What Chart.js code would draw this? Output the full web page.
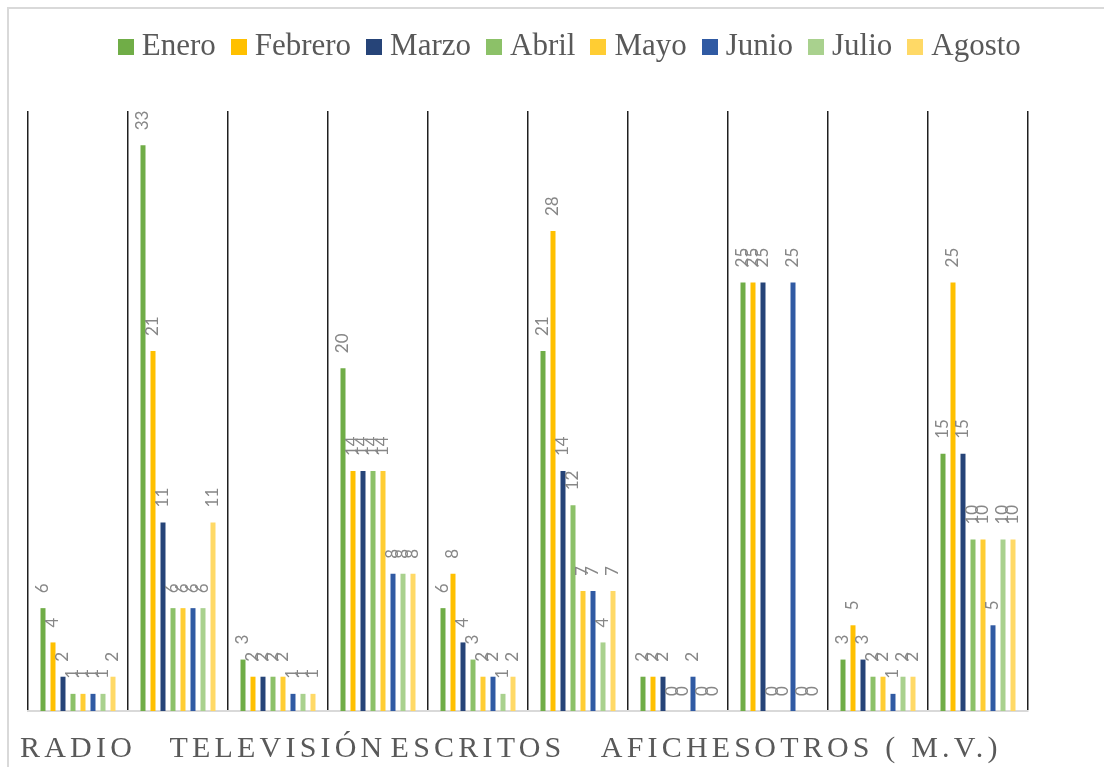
<!DOCTYPE html>
<html lang="es">
<head>
<meta charset="utf-8">
<title>Medios por mes</title>
<script src="https://cdn.jsdelivr.net/npm/chart.js@4.4.1/dist/chart.umd.min.js"></script>
<style>
  html, body { margin: 0; padding: 0; background: #ffffff; overflow: hidden; }
  #wrap { position: relative; width: 1104px; height: 767px; overflow: hidden; }
  #chart { position: absolute; left: 0; top: 0; }
  #frame { position: absolute; left: 7px; top: 7px; width: 1200px; height: 900px;
           border: 2px solid #d9d9d9; pointer-events: none; }
</style>
</head>
<body>
<div id="wrap">
  <canvas id="chart" width="1104" height="787"></canvas>
  <div id="frame"></div>
</div>
<script>
// Category tick labels (every other category carries the medium's name)
const tickLabels = ['RADIO', '', 'TELEVISIÓN', '', 'ESCRITOS', '', 'AFICHES', '', 'OTROS ( M.V.)', ''];

// Months shown as series
const months = ['Enero', 'Febrero', 'Marzo', 'Abril', 'Mayo', 'Junio', 'Julio', 'Agosto'];

// Values per month, one per category
const enero   = [6, 33, 3, 20, 6, 21, 2, 25, 3, 15];
const febrero = [4, 21, 2, 14, 8, 28, 2, 25, 5, 25];
const marzo   = [2, 11, 2, 14, 4, 14, 2, 25, 3, 15];
const abril   = [1, 6, 2, 14, 3, 12, 0, 0, 2, 10];
const mayo    = [1, 6, 2, 14, 2, 7, 0, 0, 2, 10];
const junio   = [1, 6, 1, 8, 2, 7, 2, 25, 1, 5];
const julio   = [1, 6, 1, 8, 1, 4, 0, 0, 2, 10];
const agosto  = [2, 11, 1, 8, 2, 7, 0, 0, 2, 10];

const series = [enero, febrero, marzo, abril, mayo, junio, julio, agosto];
const seriesColors = ['#70AD47', '#FFC000', '#264478', '#8CC168', '#FFCD33', '#305AA3', '#A9D18E', '#FFD966'];

// Small square swatches used as legend markers
const swatchCache = {};
function swatch(color) {
  if (!swatchCache[color]) {
    const c = document.createElement('canvas');
    c.width = 16; c.height = 16;
    const g = c.getContext('2d');
    g.fillStyle = color;
    g.fillRect(0, 0, 16, 16);
    swatchCache[color] = c;
  }
  return swatchCache[color];
}

// Layout adjustments: extra room under the legend, legend offset, spaced axis labels
const layoutTweaks = {
  id: 'layoutTweaks',
  beforeLayout(chart) {
    const lg = chart.legend;
    if (lg && !lg._extraRoom) {
      const fit = lg.fit;
      lg.fit = function () { fit.call(this); this.height += 38.5; };
      lg._extraRoom = true;
    }
  },
  afterLayout(chart) {
    const lg = chart.legend;
    if (lg) { lg.left += 45; lg.right += 45; }
  },
  beforeDraw(chart) {
    const xs = chart.scales.x;
    if (xs && !xs._spaced) {
      const base = Object.getPrototypeOf(xs).drawLabels;
      xs.drawLabels = function (area) {
        const c = this.ctx;
        c.save();
        c.letterSpacing = '4.2px';
        base.call(this, area);
        c.restore();
      };
      xs._spaced = true;
    }
  }
};

// Value labels written upward above every bar
const valueLabels = {
  id: 'valueLabels',
  afterDatasetsDraw(chart) {
    const ctx = chart.ctx;
    ctx.save();
    ctx.font = '17px Lato';
    ctx.fillStyle = '#878787';
    ctx.textAlign = 'left';
    ctx.textBaseline = 'middle';
    chart.data.datasets.forEach((ds, di) => {
      const meta = chart.getDatasetMeta(di);
      meta.data.forEach((bar, i) => {
        ctx.save();
        ctx.translate(bar.x, bar.y - 15);
        ctx.rotate(-Math.PI / 2);
        ctx.fillText(String(ds.data[i]), 0, 0);
        ctx.restore();
      });
    });
    ctx.restore();
  }
};

new Chart(document.getElementById('chart'), {
  type: 'bar',
  data: {
    labels: tickLabels,
    datasets: months.map((m, k) => ({
      label: m,
      data: series[k],
      backgroundColor: seriesColors[k],
      borderWidth: 0,
      barPercentage: 0.5,
      categoryPercentage: 0.8
    }))
  },
  options: {
    responsive: false,
    animation: false,
    devicePixelRatio: 1,
    layout: { padding: { left: 28, right: 76, top: 9, bottom: 0 } },
    scales: {
      x: {
        grid: { offset: true, color: '#1f1f1f', lineWidth: 1.5, drawTicks: false },
        border: { display: true, color: '#d9d9d9', width: 2 },
        ticks: {
          autoSkip: false, maxRotation: 0, minRotation: 0, padding: 20,
          color: '#595959',
          font: { family: 'Liberation Serif', size: 30 }
        }
      },
      y: { display: false, min: 0, max: 35 }
    },
    plugins: {
      tooltip: { enabled: false },
      legend: {
        position: 'top',
        labels: {
          usePointStyle: true,
          pointStyleWidth: 1,
          boxHeight: 16,
          padding: 22.5,
          color: '#595959',
          font: { family: 'Liberation Serif', size: 31 },
          generateLabels(chart) {
            const items = Chart.defaults.plugins.legend.labels.generateLabels(chart);
            items.forEach(it => {
              it.pointStyle = swatch(chart.data.datasets[it.datasetIndex].backgroundColor);
            });
            return items;
          }
        }
      }
    }
  },
  plugins: [layoutTweaks, valueLabels]
});
</script>
</body>
</html>
